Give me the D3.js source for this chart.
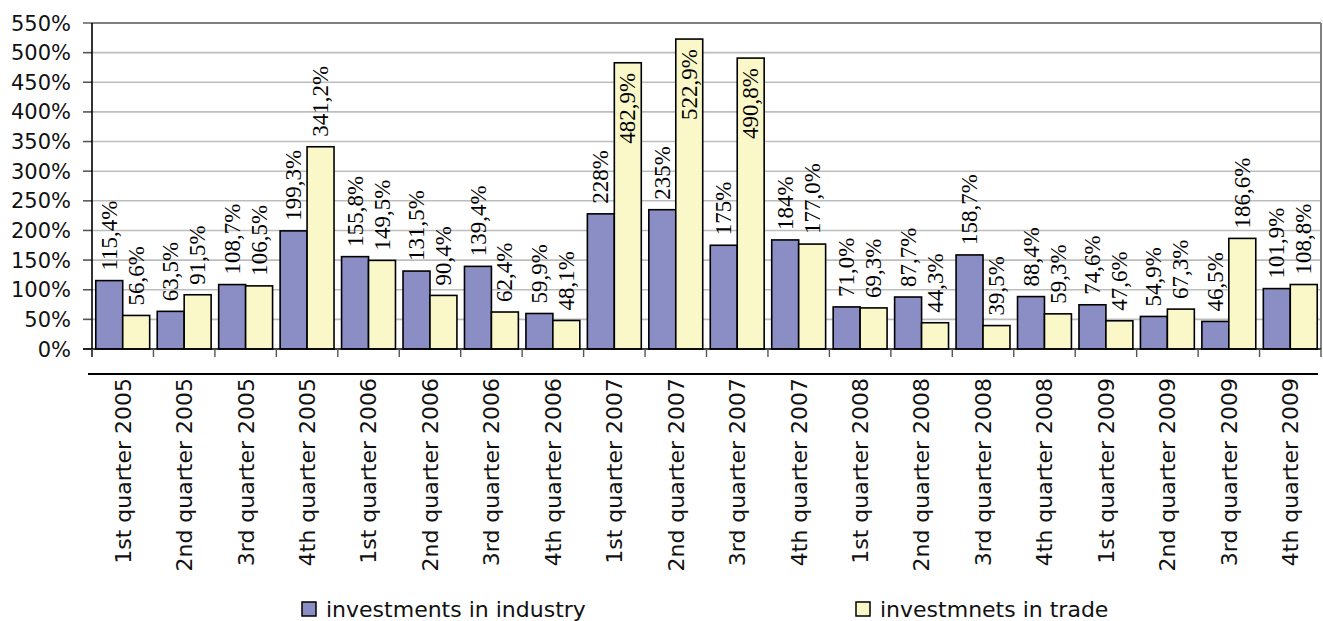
<!DOCTYPE html>
<html>
<head>
<meta charset="utf-8">
<script src="https://cdn.jsdelivr.net/npm/d3@7/dist/d3.min.js"></script>
<style>
  html, body { margin: 0; padding: 0; background: #fff; }
  svg { display: block; }
</style>
</head>
<body>
<svg id="chart" width="1323" height="621"></svg>
<script>
const categories = [
  "1st quarter 2005", "2nd quarter 2005", "3rd quarter 2005", "4th quarter 2005",
  "1st quarter 2006", "2nd quarter 2006", "3rd quarter 2006", "4th quarter 2006",
  "1st quarter 2007", "2nd quarter 2007", "3rd quarter 2007", "4th quarter 2007",
  "1st quarter 2008", "2nd quarter 2008", "3rd quarter 2008", "4th quarter 2008",
  "1st quarter 2009", "2nd quarter 2009", "3rd quarter 2009", "4th quarter 2009"
];
const seriesNames = ["investments in industry", "investmnets in trade"];
const industry = [115.4, 63.5, 108.7, 199.3, 155.8, 131.5, 139.4, 59.9, 228, 235, 175, 184, 71.0, 87.7, 158.7, 88.4, 74.6, 54.9, 46.5, 101.9];
const trade    = [56.6, 91.5, 106.5, 341.2, 149.5, 90.4, 62.4, 48.1, 482.9, 522.9, 490.8, 177.0, 69.3, 44.3, 39.5, 59.3, 47.6, 67.3, 186.6, 108.8];
const industryLabels = ["115,4%", "63,5%", "108,7%", "199,3%", "155,8%", "131,5%", "139,4%", "59,9%", "228%", "235%", "175%", "184%", "71,0%", "87,7%", "158,7%", "88,4%", "74,6%", "54,9%", "46,5%", "101,9%"];
const tradeLabels    = ["56,6%", "91,5%", "106,5%", "341,2%", "149,5%", "90,4%", "62,4%", "48,1%", "482,9%", "522,9%", "490,8%", "177,0%", "69,3%", "44,3%", "39,5%", "59,3%", "47,6%", "67,3%", "186,6%", "108,8%"];
const yTicks = [0, 50, 100, 150, 200, 250, 300, 350, 400, 450, 500, 550];
const colors = ["#8b8ec4", "#faf8c8"];

const svg = d3.select("#chart");
const pLeft = 92, pRight = 1321, pTop = 23, pBottom = 349;

const x0 = d3.scaleBand().domain(categories).range([pLeft, pRight]).padding(0);
const x1 = d3.scaleBand().domain([0, 1]).range([0, x0.bandwidth()]).paddingInner(0).paddingOuter(0.14);
const y = d3.scaleLinear().domain([0, 550]).range([pBottom, pTop]);

const sansFont = "'DejaVu Sans', sans-serif";
const serifFont = "'Liberation Serif', 'Times New Roman', serif";

// gridlines
svg.append("g").selectAll("line").data(yTicks.filter(t => t > 0 && t < 550)).join("line")
  .attr("x1", pLeft - 9).attr("x2", pRight)
  .attr("y1", d => y(d)).attr("y2", d => y(d))
  .attr("stroke", "#bdbdbd").attr("stroke-width", 1.6);
// y tick marks
svg.append("g").selectAll("line").data(yTicks).join("line")
  .attr("x1", pLeft - 9).attr("x2", pLeft)
  .attr("y1", d => y(d)).attr("y2", d => y(d))
  .attr("stroke", "#555").attr("stroke-width", 1.4);
// plot border top & right
svg.append("line").attr("x1", pLeft).attr("x2", pRight).attr("y1", y(550)).attr("y2", y(550))
  .attr("stroke", "#808080").attr("stroke-width", 2);
svg.append("line").attr("x1", pRight).attr("x2", pRight).attr("y1", y(550)).attr("y2", y(0))
  .attr("stroke", "#808080").attr("stroke-width", 2);

// y tick labels
svg.append("g").selectAll("text").data(yTicks).join("text")
  .attr("x", 71).attr("y", d => y(d)).attr("dy", "0.36em")
  .attr("text-anchor", "end")
  .attr("font-family", sansFont).attr("font-size", 21).attr("fill", "#111")
  .text(d => d + "%");

// bars
const seriesData = [industry, trade];
const seriesLabels = [industryLabels, tradeLabels];
const barData = [];
categories.forEach((c, i) => {
  [0, 1].forEach(s => barData.push({ c, s, v: seriesData[s][i], label: seriesLabels[s][i] }));
});

svg.append("g").selectAll("rect").data(barData).join("rect")
  .attr("x", d => x0(d.c) + x1(d.s))
  .attr("y", d => y(d.v))
  .attr("width", x1.bandwidth())
  .attr("height", d => y(0) - y(d.v))
  .attr("fill", d => colors[d.s])
  .attr("stroke", "#000").attr("stroke-width", 1.6);

// axes lines
svg.append("line").attr("x1", pLeft).attr("x2", pLeft).attr("y1", y(550)).attr("y2", y(0) + 8)
  .attr("stroke", "#000").attr("stroke-width", 1.6);
svg.append("line").attr("x1", pLeft - 9).attr("x2", pRight).attr("y1", y(0)).attr("y2", y(0))
  .attr("stroke", "#000").attr("stroke-width", 1.6);
// category ticks
svg.append("g").selectAll("line").data(d3.range(categories.length + 1)).join("line")
  .attr("x1", i => pLeft + i * x0.step()).attr("x2", i => pLeft + i * x0.step())
  .attr("y1", y(0)).attr("y2", y(0) + 8)
  .attr("stroke", "#555").attr("stroke-width", 1.4);
// lower separator line
svg.append("line").attr("x1", 88).attr("x2", 1318).attr("y1", 374).attr("y2", 374)
  .attr("stroke", "#000").attr("stroke-width", 2);

// category labels
svg.append("g").selectAll("text").data(categories).join("text")
  .attr("transform", d => `translate(${x0(d) + x0.bandwidth() / 2},378) rotate(-90)`)
  .attr("text-anchor", "end").attr("dy", "0.36em")
  .attr("font-family", sansFont).attr("font-size", 22).attr("fill", "#111")
  .text(d => d);

// data labels
const labelLen = 72;
svg.append("g").selectAll("text").data(barData).join("text")
  .attr("transform", d => {
    const cx = x0(d.c) + x1(d.s) + x1.bandwidth() / 2;
    const yt = y(d.v);
    const outside = yt - 10 - labelLen >= pTop - 2;
    const yy = outside ? yt - 10 : yt + 9 + labelLen;
    return `translate(${cx},${yy}) rotate(-90)`;
  })
  .attr("text-anchor", "start").attr("dy", "0.33em")
  .attr("font-family", serifFont).attr("font-size", 23).attr("fill", "#000")
  .text(d => d.label);

// legend
const legendX = [302, 856];
const lg = svg.append("g").selectAll("g").data(seriesNames).join("g")
  .attr("transform", (d, i) => `translate(${legendX[i]},602)`);
lg.append("rect").attr("width", 14).attr("height", 14)
  .attr("fill", (d, i) => colors[i]).attr("stroke", "#000").attr("stroke-width", 1.5);
lg.append("text").attr("x", 24).attr("y", 15)
  .attr("font-family", sansFont).attr("font-size", 22).attr("fill", "#111")
  .text(d => d);
</script>
</body>
</html>
